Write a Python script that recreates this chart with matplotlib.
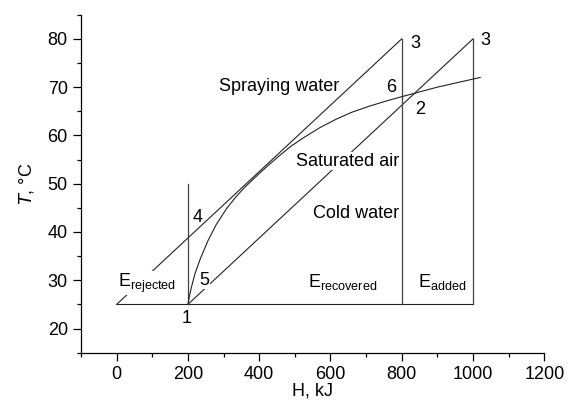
import matplotlib.pyplot as plt
from matplotlib.ticker import MultipleLocator

plt.rcParams['font.family'] = ['Liberation Sans', 'DejaVu Sans']

# straight lines of the diagram (H in kJ, T in C)
spray_h = [0, 800]
spray_t = [25, 80]
cold_h = [200, 1000]
cold_t = [25, 80]
base_h = [0, 1000]
base_t = [25, 25]
vert_h = [200, 800, 1000]
vert_top = [50, 80, 80]

# saturated air curve
sat_h = [200, 205, 210, 220, 235, 257, 280, 309, 335, 360, 400, 430, 460,
         490, 524, 570, 617, 660, 711, 760, 804, 900, 1020]
sat_t = [25, 27, 28.6, 31.4, 34.5, 38.3, 41.6, 44.9, 47.3, 49.3, 52.1, 54.1,
         56.0, 57.8, 59.5, 61.6, 63.4, 64.8, 66.1, 67.2, 68.1, 70, 72]

fig = plt.figure(figsize=(5.76, 4.04), dpi=100)
ax = fig.add_axes([0.1406, 0.127, 0.8044, 0.8366])

lc = '#222222'
ax.plot(base_h, base_t, color=lc, lw=0.8)
ax.plot(spray_h, spray_t, color=lc, lw=0.8)
ax.plot(cold_h, cold_t, color=lc, lw=0.8)
for h, top in zip(vert_h, vert_top):
    ax.plot([h, h], [25, top], color='#444444', lw=0.9)
ax.plot(sat_h, sat_t, color=lc, lw=0.8)

box = dict(facecolor='white', edgecolor='none', pad=0.5)
fs = 13
ax.text(455, 70.1, 'Spraying water', fontsize=fs, ha='center', va='center')
ax.text(647, 54.7, 'Saturated air', fontsize=fs, ha='center', va='center', bbox=box)
ax.text(672, 43.9, 'Cold water', fontsize=fs, ha='center', va='center', bbox=box)
ax.text(85, 29.4, r'E$_{\mathregular{rejected}}$', fontsize=fs, ha='center', va='center', bbox=box)
ax.text(635, 29.6, r'E$_{\mathregular{recovered}}$', fontsize=fs, ha='center', va='center', bbox=box)
ax.text(913, 29.6, r'E$_{\mathregular{added}}$', fontsize=fs, ha='center', va='center', bbox=box)

ax.text(838, 79.0, '3', fontsize=fs, ha='center', va='center')
ax.text(1035, 79.6, '3', fontsize=fs, ha='center', va='center')
ax.text(770, 70, '6', fontsize=fs, ha='center', va='center')
ax.text(852, 65.3, '2', fontsize=fs, ha='center', va='center')
ax.text(226, 43.1, '4', fontsize=fs, ha='center', va='center')
ax.text(245, 30, '5', fontsize=fs, ha='center', va='center', bbox=box)
ax.text(195, 22.1, '1', fontsize=fs, ha='center', va='center')

ax.set_xlim(-100, 1200)
ax.set_ylim(15, 85)
ax.xaxis.set_minor_locator(MultipleLocator(100))
ax.yaxis.set_minor_locator(MultipleLocator(5))
ax.set_xticks([0, 200, 400, 600, 800, 1000, 1200])
ax.set_yticks([20, 30, 40, 50, 60, 70, 80])
ax.tick_params(which='major', length=5.5, width=0.9, labelsize=fs, pad=4)
ax.tick_params(which='minor', length=3, width=0.9)
for s in ['top', 'right']:
    ax.spines[s].set_visible(False)
for s in ['left', 'bottom']:
    ax.spines[s].set_linewidth(0.9)

ax.set_xlabel('H, kJ', fontsize=fs, labelpad=0)
ax.set_ylabel(r'$\it{T}$, °C', fontsize=fs, labelpad=8)

fig.savefig('out.png', dpi=100)
